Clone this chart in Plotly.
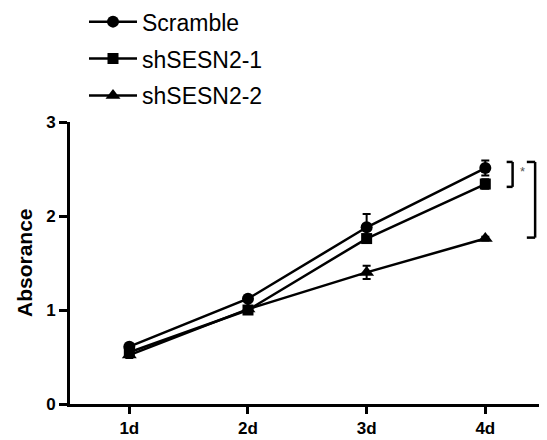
import plotly.graph_objects as go

days = ["1d", "2d", "3d", "4d"]
series_names = ["Scramble", "shSESN2-1", "shSESN2-2"]
scramble = [0.61, 1.12, 1.88, 2.51]
scramble_err = [0.03, 0.03, 0.14, 0.08]
sh1 = [0.55, 1.00, 1.76, 2.34]
sh1_err = [0.03, 0.02, 0.04, 0.05]
sh2 = [0.52, 1.01, 1.40, 1.76]
sh2_err = [0.03, 0.02, 0.07, 0.02]
y_ticks = [0, 1, 2, 3]

symbols = ["circle", "square", "triangle-up"]
sizes = [12, 11, 13]
values = [scramble, sh1, sh2]
errors = [scramble_err, sh1_err, sh2_err]

FONT = "Arial, 'Liberation Sans', sans-serif"
fig = go.Figure()
for i, (name, vals, errs, sym, sz) in enumerate(zip(series_names, values, errors, symbols, sizes)):
    fig.add_trace(go.Scatter(
        x=list(range(len(days))), y=vals, name=name, mode="lines+markers",
        line=dict(color="black", width=2.5),
        marker=dict(symbol=sym, size=sz, color="black"),
        error_y=dict(type="data", array=errs, visible=True, color="black",
                     thickness=2, width=4),
        legendgroup=name, cliponaxis=False,
    ))

# significance brackets
shapes = []
def bracket(x0, x1, y0, y1):
    for (xa, ya, xb, yb) in [(x0, y0, x1, y0), (x1, y0, x1, y1), (x0, y1, x1, y1)]:
        shapes.append(dict(type="line", xref="x", yref="y", x0=xa, y0=ya, x1=xb, y1=yb,
                           line=dict(color="black", width=2.5)))
bracket(3.18, 3.23, 2.575, 2.31)
bracket(3.35, 3.42, 2.575, 1.77)

fig.update_layout(
    width=539, height=432,
    margin=dict(l=62, r=0, t=114, b=36, autoexpand=False),
    plot_bgcolor="white", paper_bgcolor="white",
    font=dict(family=FONT, color="black"),
    shapes=shapes,
    showlegend=True,
    legend=dict(x=0.141, y=1.432, yref="paper", xref="container",
                xanchor="left", yanchor="top", itemwidth=48,
                font=dict(size=23, family=FONT, color="black"),
                tracegroupgap=4, bgcolor="rgba(0,0,0,0)"),
    annotations=[
        dict(x=0, y=0.5, xref="paper", yref="paper", xshift=-46, text="Absorance",
             textangle=-90, showarrow=False, xanchor="center", yanchor="middle",
             font=dict(size=21, family=FONT, color="black", weight="bold")),
        dict(x=3.31, y=2.47, xref="x", yref="y", text="*", showarrow=False,
             font=dict(size=13, color="#555"), xanchor="center", yanchor="middle"),
        dict(x=3.495, y=2.17, xref="x", yref="y", text="****", showarrow=False,
             textangle=90, font=dict(size=8, color="#888"), xanchor="center", yanchor="middle"),
    ],
)
fig.update_xaxes(
    range=[-0.5, 3.52], tickvals=list(range(len(days))), ticktext=days,
    showline=True, linecolor="black", linewidth=3, showgrid=False, zeroline=False,
    ticks="outside", ticklen=7, tickwidth=3, tickcolor="black",
    tickfont=dict(size=17, family=FONT, color="black", weight="bold"),
)
fig.update_yaxes(
    range=[0, 3], tickvals=y_ticks,
    showline=True, linecolor="black", linewidth=3, showgrid=False, zeroline=False,
    ticks="outside", ticklen=8, tickwidth=3, tickcolor="black",
    tickfont=dict(size=17, family=FONT, color="black", weight="bold"),
)
fig.write_html("out.html")
